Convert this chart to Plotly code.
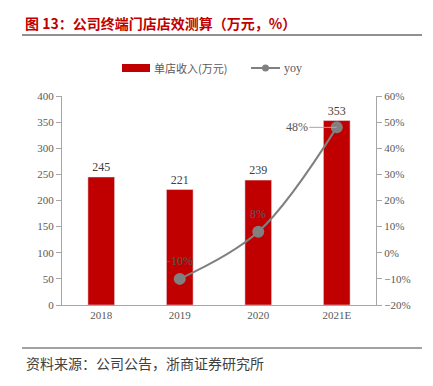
import plotly.graph_objects as go

categories = ["2018", "2019", "2020", "2021E"]
revenue = [245, 221, 239, 353]
yoy_cats = ["2019", "2020", "2021E"]
yoy = [-10, 8, 48]
yoy_labels = ["-10%", "8%", "48%"]

title_text = "图 13：公司终端门店店效测算（万元，%）"
source_text = "资料来源：公司公告，浙商证券研究所"
bar_name = "单店收入(万元)"
line_name = "yoy"

RED = "#C00000"
GRAY = "#808080"
TXT = "#595959"
SERIF = "Liberation Serif, Times New Roman, serif"
CJK = "Noto Sans CJK SC, sans-serif"

# page has an 8px body margin; figure is placed at (8, 8)
OFF = 8
PL, PR, PT, PB = 62, 376, 96, 305   # plot area in page pixels
W, H = 433 - 2 * OFF, 386 - 2 * OFF
L, T = PL - OFF, PT - OFF
R, B = W - (PR - OFF), H - (PB - OFF)
pw, ph = PR - PL, PB - PT

def px(x):
    return (x - PL) / pw

def py(y):
    return (PB - y) / ph

x_idx = list(range(len(categories)))
yoy_idx = [categories.index(c) for c in yoy_cats]

fig = go.Figure()
fig.add_trace(go.Bar(
    x=x_idx, y=revenue, name=bar_name, marker_color=RED, width=0.34,
    text=[str(v) for v in revenue], textposition="outside",
    textfont=dict(family=SERIF, size=12, color="#404040"), cliponaxis=False,
    showlegend=False,
))
fig.add_trace(go.Scatter(
    x=yoy_idx, y=yoy, name=line_name, yaxis="y2", mode="lines+markers",
    line=dict(color=GRAY, width=2, shape="spline"),
    marker=dict(color=GRAY, size=12), showlegend=False, cliponaxis=False,
))

annotations = []
for xi, v, t in zip(yoy_idx, yoy, yoy_labels):
    if xi == len(categories) - 1:
        annotations.append(dict(x=xi, y=v, xref="x", yref="y2", text=t, showarrow=True,
                                arrowhead=0, arrowwidth=1, arrowcolor="#A6A6A6", ax=-40, ay=0,
                                font=dict(family=SERIF, size=12, color=TXT)))
    else:
        annotations.append(dict(x=xi, y=v, xref="x", yref="y2", text=t, showarrow=False,
                                yshift=18, font=dict(family=SERIF, size=12, color=TXT)))

annotations.append(dict(x=px(23), y=py(23), xref="paper", yref="paper", xanchor="left",
                        yanchor="middle", text="<b>" + title_text + "</b>", showarrow=False,
                        font=dict(family=CJK, size=14, color=RED)))
annotations.append(dict(x=px(24), y=py(363), xref="paper", yref="paper", xanchor="left",
                        yanchor="middle", text=source_text, showarrow=False,
                        font=dict(family=CJK, size=14, color="#404040")))
annotations.append(dict(x=px(152), y=py(68), xref="paper", yref="paper", xanchor="left",
                        yanchor="middle", text=bar_name, showarrow=False,
                        font=dict(family=CJK, size=11, color=TXT)))
annotations.append(dict(x=px(282), y=py(68), xref="paper", yref="paper", xanchor="left",
                        yanchor="middle", text=line_name, showarrow=False,
                        font=dict(family=SERIF, size=12, color=TXT)))

shapes = [
    dict(type="line", xref="paper", yref="paper", x0=px(22), x1=px(422), y0=py(35), y1=py(35),
         line=dict(color="#222222", width=1)),
    dict(type="line", xref="paper", yref="paper", x0=px(22), x1=px(422), y0=py(348), y1=py(348),
         line=dict(color="#444444", width=1)),
    dict(type="rect", xref="paper", yref="paper", x0=px(122), x1=px(150), y0=py(72), y1=py(64),
         fillcolor=RED, line=dict(width=0)),
    dict(type="line", xref="paper", yref="paper", x0=px(251), x1=px(280), y0=py(68), y1=py(68),
         line=dict(color=GRAY, width=2)),
    dict(type="circle", xref="paper", yref="paper", x0=px(262), x1=px(269), y0=py(71.5), y1=py(64.5),
         fillcolor=GRAY, line=dict(width=0)),
]

axis_common = dict(showgrid=False, zeroline=False, showline=True, linecolor="#A6A6A6",
                   linewidth=1, ticks="outside", ticklen=5, tickcolor="#A6A6A6",
                   tickfont=dict(family=SERIF, size=11, color=TXT))

fig.update_layout(
    width=W, height=H, margin=dict(l=L, r=R, t=T, b=B),
    plot_bgcolor="white", paper_bgcolor="white",
    xaxis=dict(range=[-0.5, len(categories) - 0.5], tickvals=x_idx, ticktext=categories,
               showgrid=False, zeroline=False, showline=True, linecolor="#A6A6A6", ticks="",
               tickfont=dict(family=SERIF, size=11, color=TXT)),
    yaxis=dict(range=[0, 400], dtick=50, **axis_common),
    yaxis2=dict(range=[-20, 60], dtick=10, ticksuffix="%", overlaying="y", side="right",
                **axis_common),
    annotations=annotations, shapes=shapes, showlegend=False,
)

fig.write_html("out.html")
